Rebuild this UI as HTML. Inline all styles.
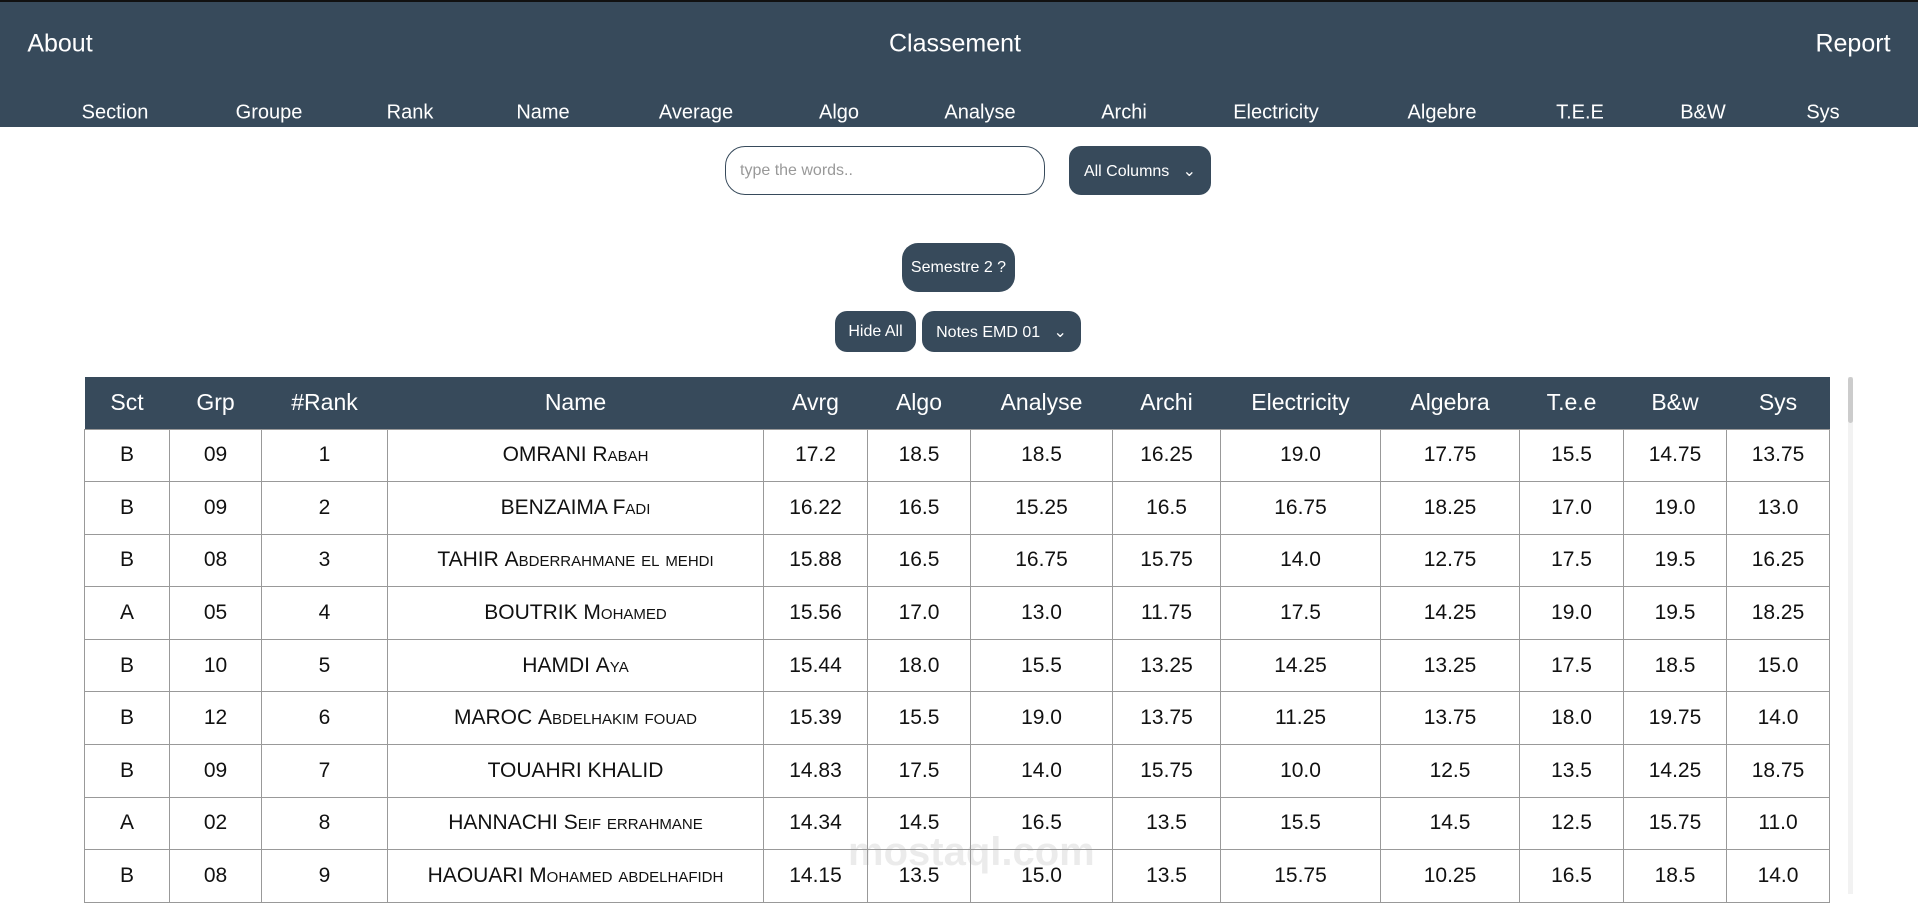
<!DOCTYPE html>
<html><head><meta charset="utf-8">
<style>
*{box-sizing:border-box;margin:0;padding:0}
body{width:1918px;height:894px;overflow:hidden;background:#fff;font-family:"Liberation Sans",sans-serif;position:relative}
#hdr{position:absolute;left:0;top:0;width:1918px;height:127px;background:#374a5b;border-top:2px solid #111}
.t{position:absolute;color:#fff;white-space:nowrap;transform:translate(-50%,-50%)}
.nav{font-size:20px;top:111px}
.big{font-size:25px;top:42px}
.btn{position:absolute;background:#374a5b;color:#fff;font-size:16px;display:flex;align-items:center;justify-content:center}
table{position:absolute;left:84px;top:377px;border-collapse:collapse;table-layout:fixed;width:1745px}
th{background:#374a5b;color:#fff;font-weight:normal;font-size:23px;height:52px}
td{border:1px solid #999;text-align:center;font-size:21px;color:#111;height:52.6px}
.sc{font-variant:small-caps}
</style></head><body>
<div id="hdr">
<div class="t big" style="left:60px">About</div>
<div class="t big" style="left:955px">Classement</div>
<div class="t big" style="left:1853px">Report</div>
<div class="t nav" style="left:115px">Section</div>
<div class="t nav" style="left:269px">Groupe</div>
<div class="t nav" style="left:410px">Rank</div>
<div class="t nav" style="left:543px">Name</div>
<div class="t nav" style="left:696px">Average</div>
<div class="t nav" style="left:839px">Algo</div>
<div class="t nav" style="left:980px">Analyse</div>
<div class="t nav" style="left:1124px">Archi</div>
<div class="t nav" style="left:1276px">Electricity</div>
<div class="t nav" style="left:1442px">Algebre</div>
<div class="t nav" style="left:1580px">T.E.E</div>
<div class="t nav" style="left:1703px">B&amp;W</div>
<div class="t nav" style="left:1823px">Sys</div>
</div>
<div style="position:absolute;left:725px;top:146px;width:320px;height:49px;border:1.5px solid #374a5b;border-radius:20px;color:#999;font-size:16px;padding:15px 14px">type the words..</div>
<div class="btn" style="left:1069px;top:146px;width:142px;height:49px;border-radius:12px">All Columns&nbsp;&nbsp;&nbsp;⌄</div>
<div class="btn" style="left:902px;top:243px;width:113px;height:49px;border-radius:16px">Semestre 2 ?</div>
<div class="btn" style="left:835px;top:311px;width:81px;height:41px;border-radius:12px">Hide All</div>
<div class="btn" style="left:922px;top:311px;width:159px;height:41px;border-radius:12px">Notes EMD 01&nbsp;&nbsp;&nbsp;⌄</div>
<div style="position:absolute;left:1848px;top:377px;width:5px;height:517px;background:#f2f2f2"><div style="width:5px;height:46px;background:#ccc;border-radius:3px"></div></div>
<div style="position:absolute;left:848px;top:830px;color:rgba(0,0,0,0.08);font-size:40px;font-weight:bold">mostaql.com</div>
<table>
<colgroup><col style="width:85px"><col style="width:92px"><col style="width:126px"><col style="width:376px"><col style="width:104px"><col style="width:103px"><col style="width:142px"><col style="width:108px"><col style="width:160px"><col style="width:139px"><col style="width:104px"><col style="width:103px"><col style="width:103px"></colgroup>
<thead><tr><th>Sct</th><th>Grp</th><th>#Rank</th><th>Name</th><th>Avrg</th><th>Algo</th><th>Analyse</th><th>Archi</th><th>Electricity</th><th>Algebra</th><th>T.e.e</th><th>B&amp;w</th><th>Sys</th></tr></thead>
<tbody id="tb"></tbody></table>
<script>
const rows=[
["B","09","1","OMRANI","Rabah","17.2","18.5","18.5","16.25","19.0","17.75","15.5","14.75","13.75"],
["B","09","2","BENZAIMA","Fadi","16.22","16.5","15.25","16.5","16.75","18.25","17.0","19.0","13.0"],
["B","08","3","TAHIR","Abderrahmane el mehdi","15.88","16.5","16.75","15.75","14.0","12.75","17.5","19.5","16.25"],
["A","05","4","BOUTRIK","Mohamed","15.56","17.0","13.0","11.75","17.5","14.25","19.0","19.5","18.25"],
["B","10","5","HAMDI","Aya","15.44","18.0","15.5","13.25","14.25","13.25","17.5","18.5","15.0"],
["B","12","6","MAROC","Abdelhakim fouad","15.39","15.5","19.0","13.75","11.25","13.75","18.0","19.75","14.0"],
["B","09","7","TOUAHRI","KHALID","14.83","17.5","14.0","15.75","10.0","12.5","13.5","14.25","18.75"],
["A","02","8","HANNACHI","Seif errahmane","14.34","14.5","16.5","13.5","15.5","14.5","12.5","15.75","11.0"],
["B","08","9","HAOUARI","Mohamed abdelhafidh","14.15","13.5","15.0","13.5","15.75","10.25","16.5","18.5","14.0"]];
const tb=document.getElementById('tb');
rows.forEach((r,i)=>{
const tr=document.createElement('tr');


const cells=[r[0],r[1],r[2],null].concat(r.slice(5));
cells.forEach((c,j)=>{
const td=document.createElement('td');
if(c===null){td.innerHTML=r[3]+' <span class="sc">'+r[4]+'</span>';}else td.textContent=c;
tr.appendChild(td);});
tb.appendChild(tr);});
</script>
</body></html>
